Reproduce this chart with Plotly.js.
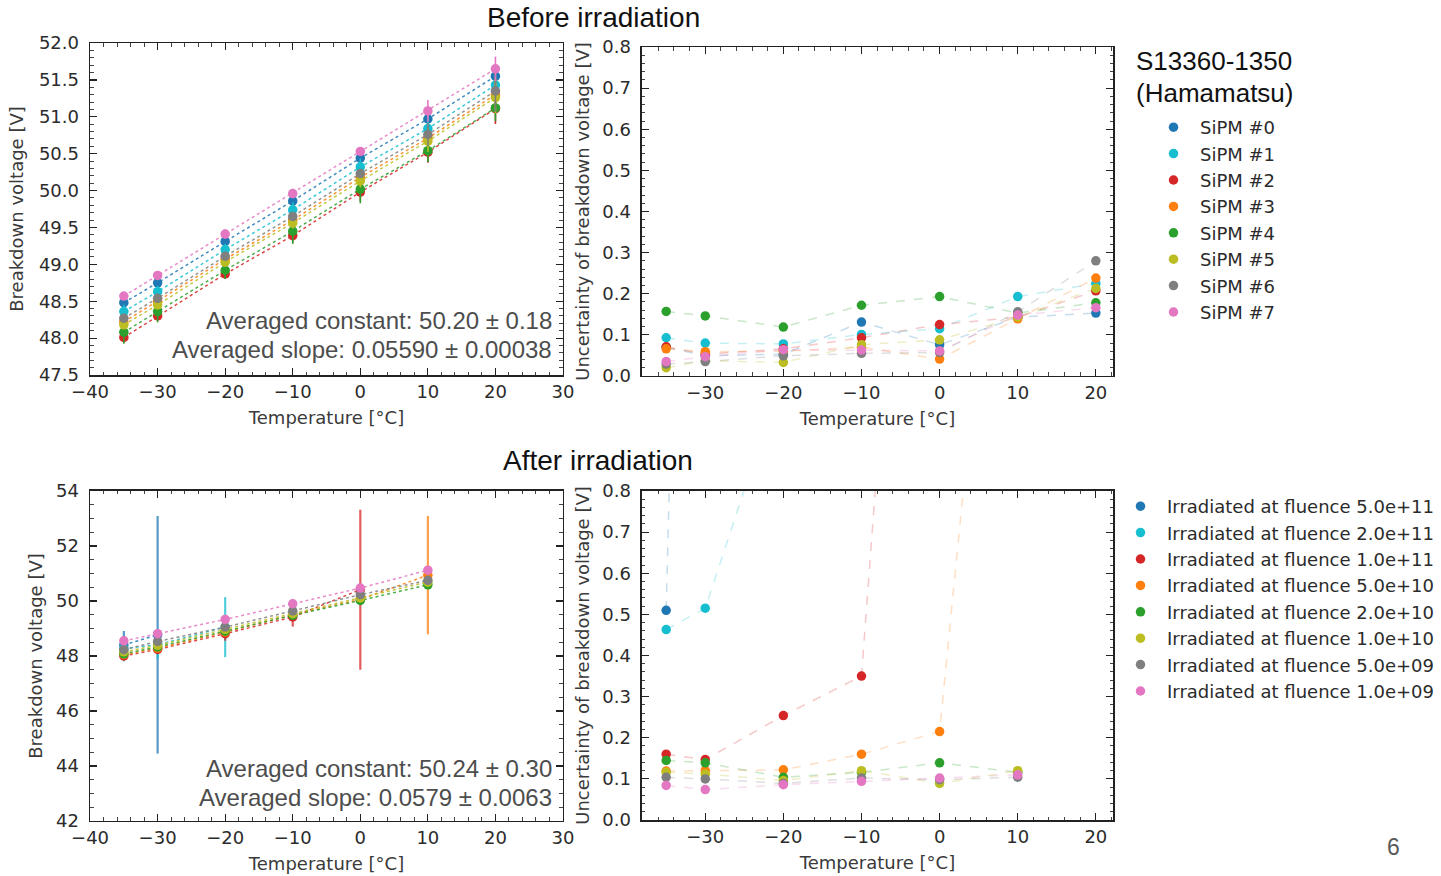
<!DOCTYPE html>
<html>
<head>
<meta charset="utf-8">
<script src="https://cdn.plot.ly/plotly-3.0.1.min.js"></script>
<style>
  html, body { margin: 0; padding: 0; background: #ffffff; }
  #chart { width: 1441px; height: 876px; }
</style>
</head>
<body>
<div id="chart"></div>
<script>
// ---------------- DATA ----------------
const temps = [-35, -30, -20, -10, 0, 10, 20];

const sipmNames = ['SiPM #0', 'SiPM #1', 'SiPM #2', 'SiPM #3', 'SiPM #4', 'SiPM #5', 'SiPM #6', 'SiPM #7'];
const seriesColors = ['#1f77b4', '#17becf', '#d62728', '#ff7f0e', '#2ca02c', '#bcbd22', '#7f7f7f', '#e377c2'];

// Before irradiation: breakdown voltage [V]
const beforeV0 = [48.48, 48.75, 49.31, 49.86, 50.44, 50.97, 51.55];
const beforeV1 = [48.36, 48.63, 49.20, 49.74, 50.32, 50.84, 51.43];
const beforeV2 = [48.01, 48.30, 48.87, 49.39, 49.98, 50.52, 51.11];
const beforeV3 = [48.22, 48.50, 49.07, 49.60, 50.18, 50.71, 51.30];
const beforeV4 = [48.08, 48.36, 48.92, 49.45, 50.02, 50.54, 51.12];
const beforeV5 = [48.18, 48.45, 49.03, 49.56, 50.13, 50.67, 51.26];
const beforeV6 = [48.27, 48.54, 49.11, 49.65, 50.23, 50.76, 51.35];
const beforeV7 = [48.57, 48.85, 49.41, 49.96, 50.53, 51.08, 51.65];

// Before irradiation: uncertainty of breakdown voltage [V]
const beforeU0 = [0.070, 0.049, 0.053, 0.131, 0.076, 0.143, 0.153];
const beforeU1 = [0.093, 0.080, 0.078, 0.101, 0.115, 0.193, 0.225];
const beforeU2 = [0.071, 0.053, 0.066, 0.093, 0.125, 0.143, 0.207];
const beforeU3 = [0.066, 0.059, 0.060, 0.070, 0.041, 0.139, 0.238];
const beforeU4 = [0.157, 0.146, 0.119, 0.172, 0.193, 0.153, 0.178];
const beforeU5 = [0.020, 0.037, 0.033, 0.076, 0.088, 0.143, 0.213];
const beforeU6 = [0.029, 0.035, 0.049, 0.055, 0.057, 0.156, 0.280];
const beforeU7 = [0.035, 0.047, 0.064, 0.063, 0.061, 0.148, 0.166];

// After irradiation
const fluenceNames = [
  'Irradiated at fluence 5.0e+11', 'Irradiated at fluence 2.0e+11',
  'Irradiated at fluence 1.0e+11', 'Irradiated at fluence 5.0e+10',
  'Irradiated at fluence 2.0e+10', 'Irradiated at fluence 1.0e+10',
  'Irradiated at fluence 5.0e+09', 'Irradiated at fluence 1.0e+09'
];
const afterT0 = [-35, -30];
const afterT1 = [-35, -30, -20];
const afterT2 = [-35, -30, -20, -10, 0];
const afterT3 = [-35, -30, -20, -10, 0, 10];
const afterT4 = [-35, -30, -20, -10, 0, 10];
const afterT5 = [-35, -30, -20, -10, 0, 10];
const afterT6 = [-35, -30, -20, -10, 0, 10];
const afterT7 = [-35, -30, -20, -10, 0, 10];

const afterV0 = [48.40, 48.77];
const afterV1 = [48.27, 48.41, 49.05];
const afterV2 = [48.00, 48.24, 48.81, 49.42, 50.41];
const afterV3 = [48.05, 48.29, 48.87, 49.50, 50.06, 50.94];
const afterV4 = [48.08, 48.33, 48.90, 49.48, 50.02, 50.59];
const afterV5 = [48.15, 48.39, 48.97, 49.54, 50.11, 50.69];
const afterV6 = [48.23, 48.53, 49.05, 49.64, 50.23, 50.75];
const afterV7 = [48.55, 48.81, 49.33, 49.90, 50.47, 51.12];

const afterU0 = [0.51, 4.32];
const afterU1 = [0.463, 0.515, 1.09];
const afterU2 = [0.160, 0.147, 0.254, 0.350, 2.91];
const afterU3 = [0.119, 0.120, 0.122, 0.160, 0.215, 2.15];
const afterU4 = [0.145, 0.139, 0.104, 0.116, 0.139, 0.116];
const afterU5 = [0.116, 0.112, 0.096, 0.120, 0.089, 0.120];
const afterU6 = [0.104, 0.100, 0.089, 0.102, 0.098, 0.104];
const afterU7 = [0.084, 0.074, 0.086, 0.094, 0.102, 0.110];

// ---------------- BUILD ----------------
const beforeV = [beforeV0, beforeV1, beforeV2, beforeV3, beforeV4, beforeV5, beforeV6, beforeV7];
const beforeU = [beforeU0, beforeU1, beforeU2, beforeU3, beforeU4, beforeU5, beforeU6, beforeU7];
const afterT = [afterT0, afterT1, afterT2, afterT3, afterT4, afterT5, afterT6, afterT7];
const afterV = [afterV0, afterV1, afterV2, afterV3, afterV4, afterV5, afterV6, afterV7];
const afterU = [afterU0, afterU1, afterU2, afterU3, afterU4, afterU5, afterU6, afterU7];

function rgba(hex, a) {
  const r = parseInt(hex.slice(1, 3), 16), g = parseInt(hex.slice(3, 5), 16), b = parseInt(hex.slice(5, 7), 16);
  return `rgba(${r},${g},${b},${a})`;
}

const traces = [];
const MS = 9.5;

// Top-left: voltage vs temperature with error bars
for (let i = 0; i < 8; i++) {
  traces.push({
    type: 'scatter', mode: 'lines+markers', x: temps, y: beforeV[i],
    xaxis: 'x', yaxis: 'y', showlegend: false,
    line: { color: rgba(seriesColors[i], 0.85), width: 1.5, dash: 'dot' },
    marker: { color: seriesColors[i], size: MS },
    error_y: { type: 'data', array: beforeU[i], visible: true, color: seriesColors[i], thickness: 1.6, width: 0 }
  });
}
// Top-right: uncertainty vs temperature
for (let i = 0; i < 8; i++) {
  traces.push({
    type: 'scatter', mode: 'lines', x: temps, y: beforeU[i],
    xaxis: 'x2', yaxis: 'y2', showlegend: false,
    line: { color: rgba(seriesColors[i], 0.25), width: 1.5, dash: 'dash' }
  });
}
for (let i = 0; i < 8; i++) {
  traces.push({
    type: 'scatter', mode: 'markers', x: temps, y: beforeU[i], name: sipmNames[i],
    xaxis: 'x2', yaxis: 'y2', legend: 'legend',
    marker: { color: seriesColors[i], size: MS }
  });
}
// Bottom-left
for (let i = 0; i < 8; i++) {
  traces.push({
    type: 'scatter', mode: 'lines+markers', x: afterT[i], y: afterV[i],
    xaxis: 'x3', yaxis: 'y3', showlegend: false,
    line: { color: rgba(seriesColors[i], 0.85), width: 1.5, dash: 'dot' },
    marker: { color: seriesColors[i], size: MS },
    error_y: { type: 'data', array: afterU[i], visible: true, color: rgba(seriesColors[i], 0.75), thickness: 2.2, width: 0 }
  });
}
// Bottom-right
for (let i = 0; i < 8; i++) {
  traces.push({
    type: 'scatter', mode: 'lines', x: afterT[i], y: afterU[i],
    xaxis: 'x4', yaxis: 'y4', showlegend: false,
    line: { color: rgba(seriesColors[i], 0.25), width: 1.5, dash: 'dash' }
  });
}
for (let i = 0; i < 8; i++) {
  traces.push({
    type: 'scatter', mode: 'markers', x: afterT[i], y: afterU[i], name: fluenceNames[i],
    xaxis: 'x4', yaxis: 'y4', legend: 'legend2',
    marker: { color: seriesColors[i], size: MS }
  });
}

const FONT = 'DejaVu Sans, sans-serif';
const tickFont = { family: FONT, size: 18, color: '#2b2b2b' };
const titleFont = { family: FONT, size: 18, color: '#3a3a3a' };

function xAx(domain, range, anchor) {
  return {
    domain: domain, range: range, anchor: anchor, dtick: 10, tick0: 0,
    showgrid: false, zeroline: false, showline: true, linecolor: '#222', linewidth: 1.5,
    mirror: 'allticks', ticks: 'inside', ticklen: 7, tickwidth: 1.2, tickcolor: '#222',
    minor: { ticks: 'inside', ticklen: 3.5, dtick: 2, tickcolor: '#444', tickwidth: 1 },
    tickfont: tickFont, ticklabelstandoff: 0,
    title: { text: 'Temperature [°C]', font: titleFont, standoff: 10 }
  };
}
function yAx(domain, range, anchor, dtick, minorDtick, fmt, titleText, standoff) {
  return {
    domain: domain, range: range, anchor: anchor, dtick: dtick, tick0: 0, tickformat: fmt,
    showgrid: false, zeroline: false, showline: true, linecolor: '#222', linewidth: 1.5,
    mirror: 'allticks', ticks: 'inside', ticklen: 7, tickwidth: 1.2, tickcolor: '#222',
    minor: { ticks: 'inside', ticklen: 3.5, dtick: minorDtick, tickcolor: '#444', tickwidth: 1 },
    tickfont: tickFont, ticklabelstandoff: 6,
    title: { text: titleText, font: titleFont, standoff: standoff }
  };
}

const annFontBig = { family: 'Liberation Sans, Arial, sans-serif', size: 24, color: '#4d4d4d' };

const layout = {
  width: 1441, height: 876,
  margin: { l: 0, r: 0, t: 0, b: 0 },
  paper_bgcolor: '#ffffff', plot_bgcolor: '#ffffff',
  xaxis: xAx([0.0625, 0.3907], [-40, 30], 'y'),
  yaxis: yAx([0.5719, 0.9509], [47.5, 52.0], 'x', 0.5, 0.1, '.1f', 'Breakdown voltage [V]', 10),
  xaxis2: xAx([0.4455, 0.7724], [-38.1, 22.2], 'y2'),
  yaxis2: yAx([0.5708, 0.9463], [0, 0.8], 'x2', 0.1, 0.02, '.1f', 'Uncertainty of breakdown voltage [V]', 8),
  xaxis3: xAx([0.0625, 0.3907], [-40, 30], 'y3'),
  yaxis3: yAx([0.0628, 0.4395], [42, 54], 'x3', 2, 0.5, 'd', 'Breakdown voltage [V]', 8),
  xaxis4: xAx([0.4455, 0.7724], [-38.1, 22.2], 'y4'),
  yaxis4: yAx([0.0639, 0.4395], [0, 0.8], 'x4', 0.1, 0.02, '.1f', 'Uncertainty of breakdown voltage [V]', 8),
  legend: {
    x: 1147 / 1441, y: 1 - 109 / 876, xanchor: 'left', yanchor: 'top',
    bgcolor: 'rgba(0,0,0,0)', borderwidth: 0, itemwidth: 43,
    font: { family: FONT, size: 18, color: '#2b2b2b' }
  },
  legend2: {
    x: 1114 / 1441, y: 1 - 488 / 876, xanchor: 'left', yanchor: 'top',
    bgcolor: 'rgba(0,0,0,0)', borderwidth: 0, itemwidth: 43,
    font: { family: FONT, size: 18, color: '#2b2b2b' }
  },
  annotations: [
    { text: 'Before irradiation', xref: 'paper', yref: 'paper', x: 593 / 1441, y: 1 - 17 / 876,
      xanchor: 'center', yanchor: 'middle', showarrow: false,
      font: { family: 'Liberation Sans, Arial, sans-serif', size: 28, color: '#111' } },
    { text: 'After irradiation', xref: 'paper', yref: 'paper', x: 598 / 1441, y: 1 - 460 / 876,
      xanchor: 'center', yanchor: 'middle', showarrow: false,
      font: { family: 'Liberation Sans, Arial, sans-serif', size: 28, color: '#111' } },
    { text: 'S13360-1350', xref: 'paper', yref: 'paper', x: 1134 / 1441, y: 1 - 61 / 876,
      xanchor: 'left', yanchor: 'middle', showarrow: false,
      font: { family: 'Liberation Sans, Arial, sans-serif', size: 26, color: '#111' } },
    { text: '(Hamamatsu)', xref: 'paper', yref: 'paper', x: 1134 / 1441, y: 1 - 93 / 876,
      xanchor: 'left', yanchor: 'middle', showarrow: false,
      font: { family: 'Liberation Sans, Arial, sans-serif', size: 26, color: '#111' } },
    { text: 'Averaged constant: 50.20 ± 0.18', xref: 'paper', yref: 'paper', x: 554 / 1441, y: 1 - 320 / 876,
      xanchor: 'right', yanchor: 'middle', showarrow: false, font: annFontBig },
    { text: 'Averaged slope: 0.05590 ± 0.00038', xref: 'paper', yref: 'paper', x: 554 / 1441, y: 1 - 349 / 876,
      xanchor: 'right', yanchor: 'middle', showarrow: false, font: annFontBig },
    { text: 'Averaged constant: 50.24 ± 0.30', xref: 'paper', yref: 'paper', x: 554 / 1441, y: 1 - 768 / 876,
      xanchor: 'right', yanchor: 'middle', showarrow: false, font: annFontBig },
    { text: 'Averaged slope: 0.0579 ± 0.0063', xref: 'paper', yref: 'paper', x: 554 / 1441, y: 1 - 797 / 876,
      xanchor: 'right', yanchor: 'middle', showarrow: false, font: annFontBig },
    { text: '6', xref: 'paper', yref: 'paper', x: 1393 / 1441, y: 1 - 847 / 876,
      xanchor: 'center', yanchor: 'middle', showarrow: false,
      font: { family: 'Liberation Sans, Arial, sans-serif', size: 23, color: '#595959' } }
  ]
};

Plotly.newPlot('chart', traces, layout, { staticPlot: true, displayModeBar: false });
</script>
</body>
</html>
